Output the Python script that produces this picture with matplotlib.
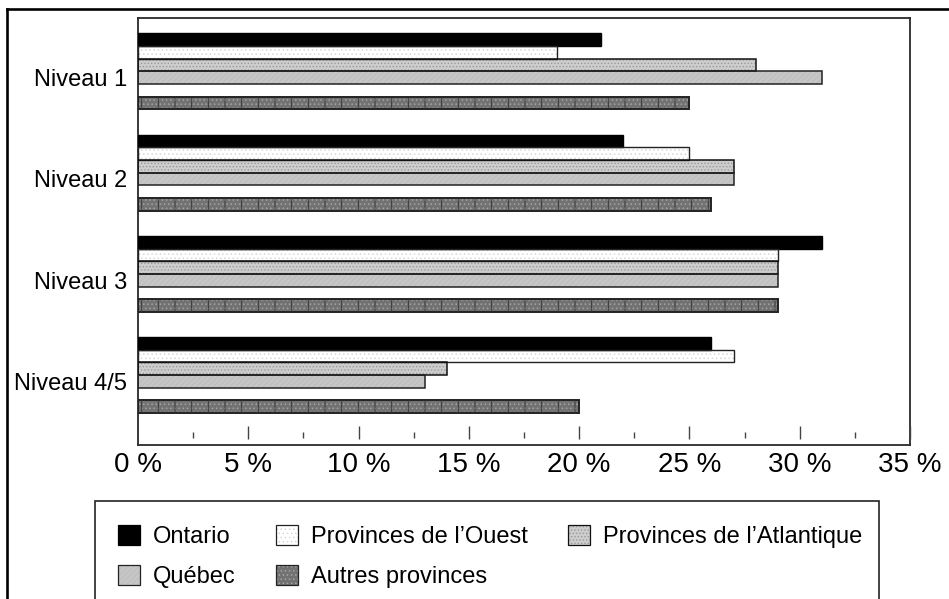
import matplotlib
matplotlib.use("Agg")
import matplotlib.pyplot as plt
from matplotlib.patches import Patch, Rectangle
from matplotlib.lines import Line2D

plt.rcParams['font.family'] = ['Liberation Sans', 'DejaVu Sans']
plt.rcParams['hatch.linewidth'] = 0.6

# Data: share of each region at each literacy level (%)
niveaux = ["Niveau 1", "Niveau 2", "Niveau 3", "Niveau 4/5"]
regions = ["Ontario", "Provinces de l\u2019Ouest", "Provinces de l\u2019Atlantique",
           "Qu\u00e9bec", "Autres provinces"]
ontario = [21, 22, 31, 26]
ouest = [19, 25, 29, 27]
atlantique = [28, 27, 29, 14]
quebec = [31, 27, 29, 13]
autres = [25, 26, 29, 20]
xticks = [0, 5, 10, 15, 20, 25, 30, 35]
xtick_labels = ["0 %", "5 %", "10 %", "15 %", "20 %", "25 %", "30 %", "35 %"]

series = [ontario, ouest, atlantique, quebec, autres]

# Styles: (face, hatch, hatch colour, outline colour, outline width)
styles = [
    ("#000000", None, "#000000", "#000000", 1.0),
    ("#ffffff", "....", "#d8d8d8", "#222222", 1.0),
    ("#cdcdcd", ".....", "#9a9a9a", "#111111", 1.1),
    ("#c6c6c6", "//////", "#bcbcbc", "#222222", 1.1),
    ("#727272", "....", "#a4a4a4", "#222222", 1.4),
]
slot_offsets = [0, 1, 2, 3, 5]   # one empty slot before the last series
group_step = 8

W, H = 949, 599
fig = plt.figure(figsize=(W / 100, H / 100), dpi=100)
ax = fig.add_axes([138 / W, 1 - 445 / H, (910 - 138) / W, (445 - 18) / H])

for k, (vals, (face, hatch, hcol, ecol, lw)) in enumerate(zip(series, styles)):
    ys = [group_step * i + slot_offsets[k] for i in range(len(niveaux))]
    ax.barh(ys, vals, height=1.0, color=face, hatch=hatch, edgecolor=hcol,
            linewidth=0, zorder=2)
    ax.barh(ys, vals, height=1.0, fill=False, edgecolor=ecol, linewidth=lw,
            zorder=3)

# Autres provinces: vertical grid strokes over the dotted fill
autres_y = [group_step * i + slot_offsets[4] for i in range(len(niveaux))]
ax.barh(autres_y, autres, height=1.0, fill=False, hatch="|", edgecolor="#333333",
        linewidth=0, zorder=3)

ax.set_xlim(0, 35)
ax.set_ylim(32.02, -1.71)

ax.set_yticks([group_step * i + 3 for i in range(len(niveaux))])
ax.set_yticklabels(niveaux, fontsize=17)
ax.tick_params(axis='y', length=0, pad=8)

ax.set_xticks(xticks)
ax.set_xticklabels(xtick_labels, fontsize=20)
ax.tick_params(axis='x', length=0, pad=5)

# Inward tick marks sitting slightly above the bottom frame
tr = ax.get_xaxis_transform()
major = [x for x in xticks if 0 < x <= 35]
minor = [x + 2.5 for x in xticks[:-1]]
ax.vlines(major, 0.014, 0.045, transform=tr, colors="#444444", linewidth=1.0,
          zorder=4, clip_on=False)
ax.vlines(minor, 0.016, 0.031, transform=tr, colors="#444444", linewidth=1.0,
          zorder=4, clip_on=False)

for sp in ax.spines.values():
    sp.set_color("#2a2a2a")
    sp.set_linewidth(1.3)

# Legend box (runs past the lower edge of the figure)
fig.add_artist(Rectangle((95 / W, -0.2), (879 - 95) / W, (1 - 501 / H) + 0.2,
                         transform=fig.transFigure, facecolor="white",
                         edgecolor="#222222", linewidth=1.2, zorder=1))

handles = []
for face, hatch, hcol, ecol, lw in styles:
    base = Patch(facecolor=face, hatch=hatch, edgecolor=hcol, linewidth=0)
    edge = Patch(fill=False, edgecolor=ecol, linewidth=0.9)
    handles.append((base, edge))

order = [0, 3, 1, 4, 2]
leg = fig.legend([handles[i] for i in order], [regions[i] for i in order],
                 loc="upper left", bbox_to_anchor=(94 / W, 1 - 501 / H),
                 bbox_transform=fig.transFigure, ncol=3, frameon=False,
                 fontsize=17, borderaxespad=0, borderpad=1.0,
                 handlelength=0.93, handleheight=0.93, handletextpad=0.55,
                 columnspacing=1.72, labelspacing=0.74)
leg.set_zorder(5)

# Outer frame (left and top edges)
fig.add_artist(Line2D([7 / W, 7 / W], [-0.1, 1 - 8.7 / H], transform=fig.transFigure,
                      color="black", linewidth=1.9, solid_capstyle="projecting"))
fig.add_artist(Line2D([7 / W, 1.1], [1 - 8.7 / H, 1 - 8.7 / H], transform=fig.transFigure,
                      color="black", linewidth=1.9, solid_capstyle="projecting"))

fig.savefig("out.png", dpi=100)
